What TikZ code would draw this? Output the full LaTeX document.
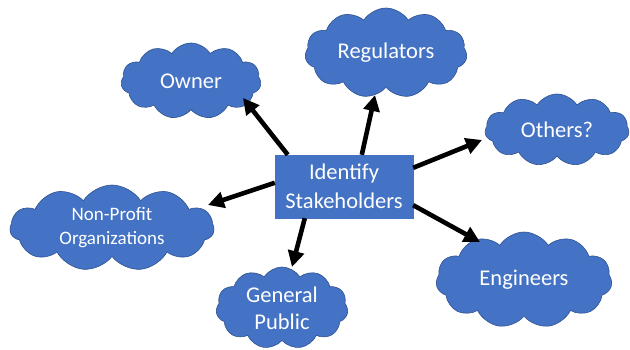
\documentclass[tikz,border=0pt]{standalone}
\usepackage{fontspec}
\setmainfont{Carlito}
\usetikzlibrary{shapes.symbols,arrows.meta,calc}
\definecolor{cloudfill}{HTML}{4472C4}
\definecolor{cloudline}{HTML}{2F528F}
\tikzset{
  stake/.style={cloud, cloud puffs=11, cloud puff arc=115, cloud ignores aspect,
    fill=cloudfill, draw=cloudline, line width=0.6pt, inner sep=0pt,
    text=white, align=center, font=\fontsize{22.5}{27}\selectfont},
  centerbox/.style={rectangle, fill=cloudfill, draw=cloudfill, inner sep=0pt,
    minimum width=138pt, minimum height=63pt, text=white, align=center,
    font=\fontsize{22.5}{29}\selectfont},
  link/.style={line width=4.6pt, -{Triangle[length=16pt,width=16pt]}}
}
\begin{document}
\begin{tikzpicture}[x=1pt,y=-1pt]
\useasboundingbox (0,0) rectangle (630,350);
\node[stake, minimum width=140pt, minimum height=76pt] (owner) at (191,81) {Owner};
\node[stake, minimum width=162pt, minimum height=90pt] (reg) at (386,53) {Regulators};
\node[stake, minimum width=144pt, minimum height=72pt] (oth) at (557,130) {Others?};
\node[stake, minimum width=204pt, minimum height=86pt, font=\fontsize{19}{24}\selectfont] (np) at (112,228) {Non-Profit\\Organizations};
\node[stake, minimum width=132pt, minimum height=82pt] (gp) at (282,308) {General\\Public};
\node[stake, minimum width=176pt, minimum height=96pt] (eng) at (524,280) {Engineers};
\node[centerbox] (box) at (344,186.5) {Identify\\Stakeholders};
\draw[link] ($(box.north west)+(13,0)$) -- ($(owner)+(52,17)$);
\draw[link] ($(box.north west)+(87,0)$) -- ($(reg)+(-11,42)$);
\draw[link] ($(box.north east)+(0,13)$) -- ($(oth)+(-75,10)$);
\draw[link] ($(box.south east)+(0,-13)$) -- ($(eng)+(-44,-38)$);
\draw[link] ($(box.north west)+(0,28)$) -- ($(np)+(96,-23)$);
\draw[link] ($(box.south west)+(30,0)$) -- ($(gp)+(10,-41)$);
\end{tikzpicture}
\end{document}
